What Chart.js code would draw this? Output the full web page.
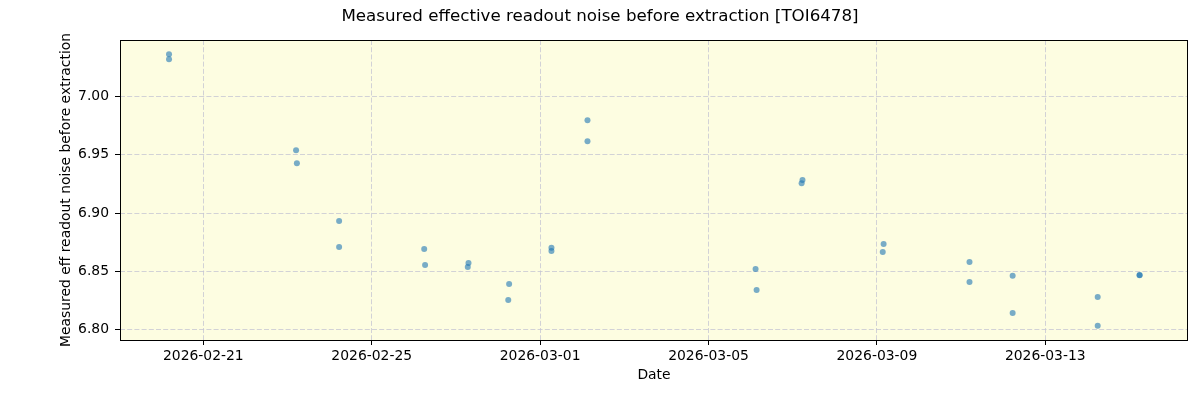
<!DOCTYPE html>
<html>
<head>
<meta charset="utf-8">
<script src="https://cdn.jsdelivr.net/npm/chart.js@4/dist/chart.umd.min.js"></script>
<style>
html,body{margin:0;padding:0;background:#fff;}
#wrap{width:1200px;height:400px;}
</style>
</head>
<body>
<div id="wrap"><canvas id="c" width="1200" height="400"></canvas></div>
<script>
// ---- data ----
const dates = [
  "2026-02-20T04:26", "2026-02-20T04:26",
  "2026-02-23T04:52", "2026-02-23T05:20",
  "2026-02-24T05:24", "2026-02-24T05:24",
  "2026-02-26T05:55", "2026-02-26T06:25",
  "2026-02-27T07:10", "2026-02-27T06:45",
  "2026-02-28T06:20", "2026-02-28T05:50",
  "2026-03-01T06:28", "2026-03-01T06:28",
  "2026-03-02T03:00", "2026-03-02T03:00",
  "2026-03-06T02:50", "2026-03-06T03:25",
  "2026-03-07T05:35", "2026-03-07T05:05",
  "2026-03-09T03:50", "2026-03-09T03:20",
  "2026-03-11T04:48", "2026-03-11T04:48",
  "2026-03-12T05:24", "2026-03-12T05:24",
  "2026-03-14T05:53", "2026-03-14T05:53",
  "2026-03-15T05:46", "2026-03-15T05:46"
];
const noiseValues = [
  7.0359, 7.0316,
  6.9538, 6.9427,
  6.8932, 6.8709,
  6.8692, 6.8556,
  6.8573, 6.8538,
  6.8393, 6.8256,
  6.8703, 6.8675,
  6.9795, 6.9615,
  6.8521, 6.8342,
  6.9282, 6.9256,
  6.8735, 6.8667,
  6.8581, 6.8410,
  6.8462, 6.8145,
  6.8282, 6.8034,
  6.8470, 6.8468
];
const xTickLabels = ["2026-02-21", "2026-02-25", "2026-03-01", "2026-03-05", "2026-03-09", "2026-03-13"];
const yTickValues = [6.80, 6.85, 6.90, 6.95, 7.00];
const xRange = ["2026-02-19T00:29", "2026-03-16T09:22"];
const yRange = [6.7913, 7.0481];

// ---- build ----
const toMs = s => Date.parse(s + (s.length <= 10 ? "T00:00" : "") + ":00Z");
const points = dates.map((d, i) => ({x: toMs(d), y: noiseValues[i]}));
const pad = n => String(n).padStart(2, "0");
const fmtDate = v => { const d = new Date(v); return d.getUTCFullYear() + "-" + pad(d.getUTCMonth() + 1) + "-" + pad(d.getUTCDate()); };

const FONT = "'DejaVu Sans', sans-serif";

const framePlugin = {
  id: 'frame',
  beforeDraw(chart) {
    const {ctx, chartArea: a} = chart;
    ctx.save();
    ctx.fillStyle = '#fdfde1';
    ctx.fillRect(a.left, a.top, a.right - a.left, a.bottom - a.top);
    ctx.restore();
  },
  afterDraw(chart) {
    const {ctx, chartArea: a} = chart;
    ctx.save();
    ctx.strokeStyle = '#000';
    ctx.lineWidth = 1;
    ctx.strokeRect(Math.round(a.left) + 0.5, Math.round(a.top) + 0.5, Math.round(a.right - a.left) - 1, Math.round(a.bottom - a.top));
    ctx.restore();
  }
};

const gridOpts = {
  color: 'rgba(195,195,210,0.75)',
  lineWidth: 1,
  tickLength: 5,
  tickColor: '#000',
  tickWidth: 1,
  tickBorderDash: [1, 0]
};
const borderOpts = {display: false, dash: [5, 2.2]};

new Chart(document.getElementById('c'), {
  type: 'scatter',
  data: {
    datasets: [{
      data: points,
      backgroundColor: 'rgba(31,119,180,0.6)',
      borderColor: 'rgba(31,119,180,0.6)',
      borderWidth: 0,
      pointRadius: 3,
      pointHoverRadius: 3
    }]
  },
  options: {
    responsive: false,
    animation: false,
    layout: {padding: {left: 12, right: 12, top: 0, bottom: 0}},
    plugins: {
      legend: {display: false},
      tooltip: {enabled: false},
      title: {
        display: true,
        text: 'Measured effective readout noise before extraction [TOI6478]',
        color: '#000',
        font: {family: FONT, size: 16.7, weight: 'normal'},
        padding: {top: 6.5, bottom: 13.5}
      }
    },
    scales: {
      x: {
        type: 'linear',
        min: toMs(xRange[0]),
        max: toMs(xRange[1]),
        afterBuildTicks: s => { s.ticks = xTickLabels.map(t => ({value: toMs(t)})); },
        afterFit: s => { s.height = 60; },
        ticks: {
          callback: v => fmtDate(v),
          color: '#000',
          font: {family: FONT, size: 13.9},
          padding: 3,
          maxRotation: 0,
          autoSkip: false
        },
        grid: gridOpts,
        border: borderOpts,
        title: {
          display: true,
          text: 'Date',
          color: '#000',
          font: {family: FONT, size: 13.9},
          padding: {top: 0, bottom: 16}
        }
      },
      y: {
        min: yRange[0],
        max: yRange[1],
        afterBuildTicks: s => { s.ticks = yTickValues.map(v => ({value: v})); },
        afterFit: s => { s.width = 108; },
        ticks: {
          callback: v => Number(v).toFixed(2),
          color: '#000',
          font: {family: FONT, size: 13.9},
          padding: 6
        },
        grid: gridOpts,
        border: borderOpts,
        title: {
          display: true,
          text: 'Measured eff readout noise before extraction',
          color: '#000',
          font: {family: FONT, size: 13.9},
          padding: {top: 46, bottom: 0}
        }
      }
    }
  },
  plugins: [framePlugin]
});
</script>
</body>
</html>
